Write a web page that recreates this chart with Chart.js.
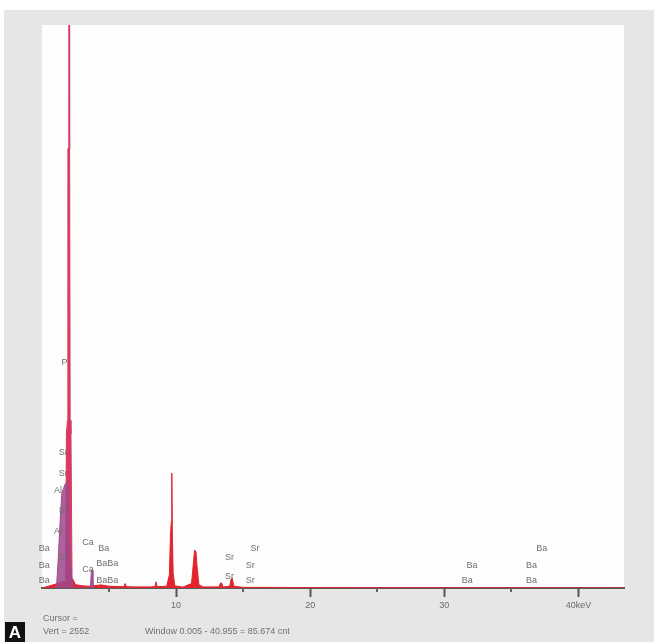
<!DOCTYPE html>
<html>
<head>
<meta charset="utf-8">
<script src="https://cdn.jsdelivr.net/npm/chart.js@4/dist/chart.umd.min.js"></script>
<style>
html,body{margin:0;padding:0;background:#fff;}
#wrap{position:relative;width:654px;height:642px;}
canvas{display:block;}
</style>
</head>
<body>
<div id="wrap"><canvas id="c" width="654" height="642"></canvas></div>
<script>
// ---- data (energy in keV, counts) ----
const spectrumKeV    = [0, 2.3, 2.5, 3.0, 3.5, 4.4, 4.6, 5.0, 6.1, 6.2, 6.3, 7.0, 8.0, 8.42, 8.5, 8.58, 9.3, 9.5, 9.58, 9.64, 9.68, 9.72, 9.78, 9.9, 10.5, 11.15, 11.3, 11.38, 11.48, 11.56, 11.7, 12.0, 13.2, 13.32, 13.4, 13.5, 14.0, 14.1, 14.18, 14.3, 15.0, 20.0, 30.0, 43.4];
const spectrumCounts = [0, 40, 15, 10, 8, 14, 12, 8, 6, 20, 6, 5, 5, 6, 28, 6, 8, 60, 240, 300, 521, 240, 70, 10, 4, 20, 120, 172, 165, 100, 15, 5, 5, 23, 23, 5, 8, 40, 45, 8, 3, 2, 1, 0];

const mainPeakKeV    = [1.76, 1.82, 1.90, 1.93, 1.97, 2.00, 2.03, 2.06, 2.10, 2.16, 2.24];
const mainPeakCounts = [40, 700, 760, 1990, 1995, 3600, 3600, 1990, 760, 700, 40];

const clusterKeV     = [1.0, 1.1, 1.2, 1.35, 1.48, 1.6, 1.72, 1.85, 1.95, 2.1, 2.3, 3.6, 3.69, 3.74, 3.8];
const clusterCounts  = [0, 20, 120, 300, 430, 450, 470, 480, 460, 120, 0, 0, 80, 80, 0];

const labelText  = ["P", "Sr", "Sr", "Al", "Si", "Al", "Sr", "Ba", "Ba", "Ba", "Ca", "Ba", "Ca", "BaBa", "BaBa", "Sr", "Sr", "Sr", "Sr", "Sr", "Ba", "Ba", "Ba", "Ba", "Ba"];
const labelKeV   = [1.45, 1.25, 1.25, 0.9, 1.25, 0.9, 1.25, -0.25, -0.25, -0.25, 3.0, 4.2, 3.0, 4.05, 4.05, 13.65, 15.55, 15.2, 13.65, 15.2, 31.65, 31.3, 36.85, 36.1, 36.1];
const labelCount = [1020, 612, 521, 440, 349, 254, 140, 181, 104, 32, 204, 181, 86, 109, 36, 140, 177, 104, 54, 36, 104, 32, 177, 100, 32];

const tickValues = [0, 10, 20, 30, 40];
const minorTickValues = [5, 15, 25, 35];
const tickLabels = {10: "10", 20: "20", 30: "30", 40: "40keV"};

const cursorLines = ["Cursor =", "Vert = 2552"];
const windowText = "Window 0.005 - 40.955 = 85.674 cnt";
const panelTag = "A";

const toPts = (xs, ys) => xs.map((x, i) => ({x: x, y: ys[i]}));

const bgPlugin = {
  id: 'bg',
  beforeDraw(chart) {
    const ctx = chart.ctx, a = chart.chartArea;
    ctx.save();
    ctx.fillStyle = '#ffffff';
    ctx.fillRect(0, 0, chart.width, chart.height);
    ctx.fillStyle = '#e6e6e6';
    ctx.fillRect(4, 10, 650, 632);
    ctx.fillStyle = '#fdfdfd';
    ctx.fillRect(a.left, a.top, a.right - a.left, a.bottom - a.top);
    ctx.restore();
  },
  afterDraw(chart) {
    const ctx = chart.ctx, xs = chart.scales.x, ys = chart.scales.y, a = chart.chartArea;
    ctx.save();
    // minor ticks (short)
    ctx.strokeStyle = '#666';
    ctx.lineWidth = 2;
    minorTickValues.forEach(v => {
      const px = Math.round(xs.getPixelForValue(v));
      ctx.beginPath();
      ctx.moveTo(px, a.bottom);
      ctx.lineTo(px, a.bottom + 4);
      ctx.stroke();
    });
    ctx.font = '9px "Liberation Sans", Arial, sans-serif';
    ctx.fillStyle = '#707070';
    ctx.textBaseline = 'middle';
    ctx.textAlign = 'left';
    labelText.forEach((t, i) => {
      ctx.fillText(t, xs.getPixelForValue(labelKeV[i]), ys.getPixelForValue(labelCount[i]));
    });
    ctx.fillText(cursorLines[0], 43, 619);
    ctx.fillText(cursorLines[1], 43, 632);
    ctx.fillText(windowText, 145, 632);
    // panel tag
    ctx.fillStyle = '#111111';
    ctx.fillRect(5, 622, 20, 20);
    ctx.fillStyle = '#ffffff';
    ctx.font = 'bold 17px "Liberation Sans", Arial, sans-serif';
    ctx.textAlign = 'center';
    ctx.fillText(panelTag, 15, 633);
    ctx.restore();
  }
};

new Chart(document.getElementById('c'), {
  type: 'line',
  data: {
    datasets: [
      {
        data: toPts(clusterKeV, clusterCounts),
        borderColor: '#9a4e8e',
        backgroundColor: 'rgba(160,70,140,0.85)',
        borderWidth: 1, pointRadius: 0, tension: 0, fill: 'origin'
      },
      {
        data: toPts(spectrumKeV, spectrumCounts),
        borderColor: '#e3232d',
        backgroundColor: '#e3232d',
        borderWidth: 1, pointRadius: 0, tension: 0, fill: 'origin'
      },
      {
        data: toPts(mainPeakKeV, mainPeakCounts),
        borderColor: '#d83a60',
        backgroundColor: '#d83a60',
        borderWidth: 1, pointRadius: 0, tension: 0, fill: 'origin'
      }
    ]
  },
  options: {
    responsive: false,
    animation: false,
    layout: {padding: {left: 42, right: 30, top: 25, bottom: 0}},
    plugins: {legend: {display: false}, tooltip: {enabled: false}},
    scales: {
      x: {
        type: 'linear', min: 0, max: 43.4,
        afterFit(scale) { scale.height = 54; },
        afterBuildTicks(scale) { scale.ticks = tickValues.map(v => ({value: v})); },
        ticks: {
          autoSkip: false, maxRotation: 0, padding: 3, includeBounds: false,
          color: '#6a6a6a',
          font: {size: 9, family: '"Liberation Sans", Arial, sans-serif'},
          callback: v => tickLabels[v] || ''
        },
        grid: {
          drawOnChartArea: false, drawTicks: true, tickLength: 9,
          tickColor: c => (c.tick && c.tick.value === 0) ? 'rgba(0,0,0,0)' : '#555',
          tickWidth: 2
        },
        border: {display: true, color: '#5a5a5a', width: 2}
      },
      y: {
        type: 'linear', min: 0, max: 2552, display: false
      }
    }
  },
  plugins: [bgPlugin]
});
</script>
</body>
</html>
